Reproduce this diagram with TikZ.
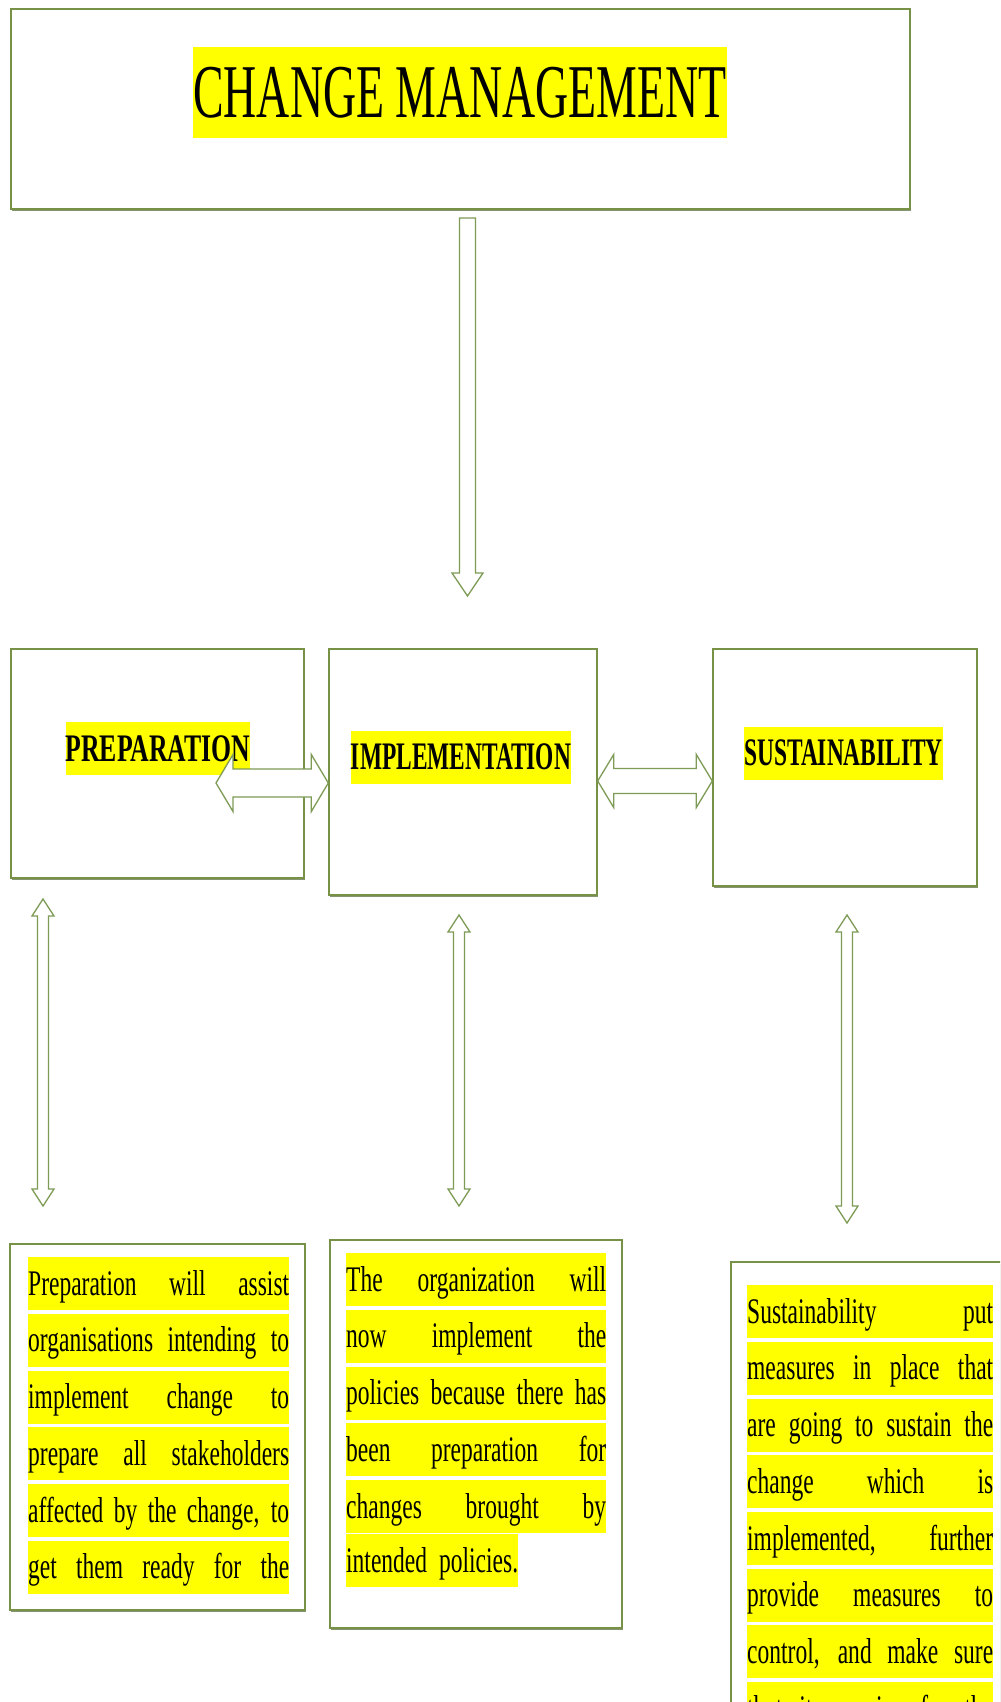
\documentclass[tikz,border=0pt]{standalone}
\usepackage{fontspec}
\usepackage{tikz}
\usetikzlibrary{calc,shadows}
\definecolor{boxgreen}{RGB}{119,146,70}
\definecolor{arrowgreen}{RGB}{125,155,85}
\definecolor{shadowgreen}{RGB}{135,148,115}
\definecolor{hly}{RGB}{255,255,0}
\newfontfamily\titlefont{Liberation Serif}[FakeStretch=0.603]
\newfontfamily\labelfont{Liberation Serif}[FakeStretch=0.6]
\newfontfamily\preplabelfont{Liberation Serif}[FakeStretch=0.66]
\newfontfamily\notefont{Liberation Serif}[FakeStretch=0.653]
\setlength{\fboxsep}{0pt}
\newcommand{\notespacing}{\spaceskip=\fontdimen2\font plus 1fil\relax\xspaceskip=\spaceskip}
\newcommand{\hlstrut}{\rule[-15bp]{0pt}{53bp}}
\newcommand{\hlline}[1]{\colorbox{hly}{\parbox{\linewidth}{\notespacing\parfillskip=0pt\relax\hlstrut#1}}}
\newcommand{\hllast}[1]{\colorbox{hly}{\hlstrut#1}}
% block arrows: tail/tip coordinates, then half shaft, half head, head length
\newcommand{\downfat}[2]{%
  \draw[fatarrow] ($(#1)+(-8,0)$) -- ($(#1)+(8,0)$) -- ($(#2)+(8,-23)$) -- ($(#2)+(15.5,-23)$) -- (#2)
    -- ($(#2)+(-15.5,-23)$) -- ($(#2)+(-8,-23)$) -- cycle;}
\newcommand{\hdoublefat}[5]{%
  \draw[fatarrow] (#1) -- ($(#1)+(#5,-#4)$) -- ($(#1)+(#5,-#3)$) -- ($(#2)+(-#5,-#3)$) -- ($(#2)+(-#5,-#4)$) -- (#2)
    -- ($(#2)+(-#5,#4)$) -- ($(#2)+(-#5,#3)$) -- ($(#1)+(#5,#3)$) -- ($(#1)+(#5,#4)$) -- cycle;}
\newcommand{\vdoublefat}[5]{%
  \draw[fatarrow] (#1) -- ($(#1)+(#4,#5)$) -- ($(#1)+(#3,#5)$) -- ($(#2)+(#3,-#5)$) -- ($(#2)+(#4,-#5)$) -- (#2)
    -- ($(#2)+(-#4,-#5)$) -- ($(#2)+(-#3,-#5)$) -- ($(#1)+(-#3,#5)$) -- ($(#1)+(-#4,#5)$) -- cycle;}

\begin{document}
\begin{tikzpicture}[
    x=1bp, y=-1bp,
    box/.style={draw=boxgreen, line width=1.4bp, fill=white, inner sep=0pt,
        drop shadow={shadow xshift=0.6bp, shadow yshift=-2.4bp, fill=shadowgreen, opacity=1}},
    hlbox/.style={fill=hly, inner xsep=0pt, inner ysep=0pt},
    stagelabel/.style={fill=hly, inner xsep=0pt, inner ysep=0pt, minimum height=53bp,
        font=\labelfont\bfseries\fontsize{39bp}{47bp}\selectfont},
    notetext/.style={inner sep=0pt, anchor=north west, align=left,
        font=\notefont\fontsize{36bp}{56.7bp}\selectfont},
    fatarrow/.style={draw=arrowgreen, fill=white, line width=1.3bp, line join=miter}
]
\useasboundingbox (0,0) rectangle (1000,1702);
\fill[white] (0,0) rectangle (1000,1702);
\clip (0,0) rectangle (1000,1702);

% title
\node[box, minimum width=899bp, minimum height=200bp] (top) at (460.5,109) {};
\node[hlbox, minimum height=91bp, font=\titlefont\fontsize{76bp}{91bp}\selectfont] (title) at (460,92.5) {CHANGE MANAGEMENT};

% stages
\node[box, minimum width=293bp, minimum height=229bp] (prep) at (157.5,763.5) {};
\node[box, minimum width=268bp, minimum height=246bp] (impl) at (463,772) {};
\node[box, minimum width=264bp, minimum height=237bp] (sust) at (845,767.5) {};
\node[stagelabel, font=\preplabelfont\bfseries\fontsize{39bp}{47bp}\selectfont] (preptitle) at (158,748.5) {PREPARATION};
\node[stagelabel] (impltitle) at (461,757) {IMPLEMENTATION};
\node[stagelabel] (susttitle) at (843.5,753) {SUSTAINABILITY};

% notes
\node[box, minimum width=295bp, minimum height=366bp] (prepnote) at (157.5,1427) {};
\node[box, minimum width=292bp, minimum height=388bp] (implnote) at (476,1434) {};
\node[box, minimum width=284bp, minimum height=538bp] (sustnote) at (873,1531) {};

\node[notetext, text width=261bp] (preptext) at (28,1257) {%
\hlline{Preparation will assist}\par
\hlline{organisations intending to}\par
\hlline{implement change to}\par
\hlline{prepare all stakeholders}\par
\hlline{affected by the change, to}\par
\hlline{get them ready for the}};
\node[notetext, text width=260bp] (impltext) at (346,1253) {%
\hlline{The organization will}\par
\hlline{now implement the}\par
\hlline{policies because there has}\par
\hlline{been preparation for}\par
\hlline{changes brought by}\par
\hllast{intended policies.}};
\node[notetext, text width=246bp] (susttext) at (747,1285) {%
\hlline{Sustainability put}\par
\hlline{measures in place that}\par
\hlline{are going to sustain the}\par
\hlline{change which is}\par
\hlline{implemented, further}\par
\hlline{provide measures to}\par
\hlline{control, and make sure}\par
\hlline{that it remains for the}};

% arrows
\coordinate (downtail) at (467.5,218);
\coordinate (downtip) at (467.5,596);
\downfat{downtail}{downtip}

\coordinate (piL) at (216,783);
\coordinate (piR) at (impl.west |- piL);
\hdoublefat{piL}{piR}{14}{28.5}{17}

\coordinate (isL) at (impl.east |- 0,781);
\coordinate (isR) at (sust.west |- 0,781);
\hdoublefat{isL}{isR}{12.5}{26.5}{16}

\coordinate (prepup) at (43,899);
\coordinate (prepdown) at (43,1206);
\vdoublefat{prepup}{prepdown}{5.5}{11}{17}
\coordinate (implup) at (459,915);
\coordinate (impldown) at (459,1206);
\vdoublefat{implup}{impldown}{5.5}{11}{17}
\coordinate (sustup) at (847,915);
\coordinate (sustdown) at (847,1223);
\vdoublefat{sustup}{sustdown}{5.5}{11}{17}

\end{tikzpicture}
\end{document}
